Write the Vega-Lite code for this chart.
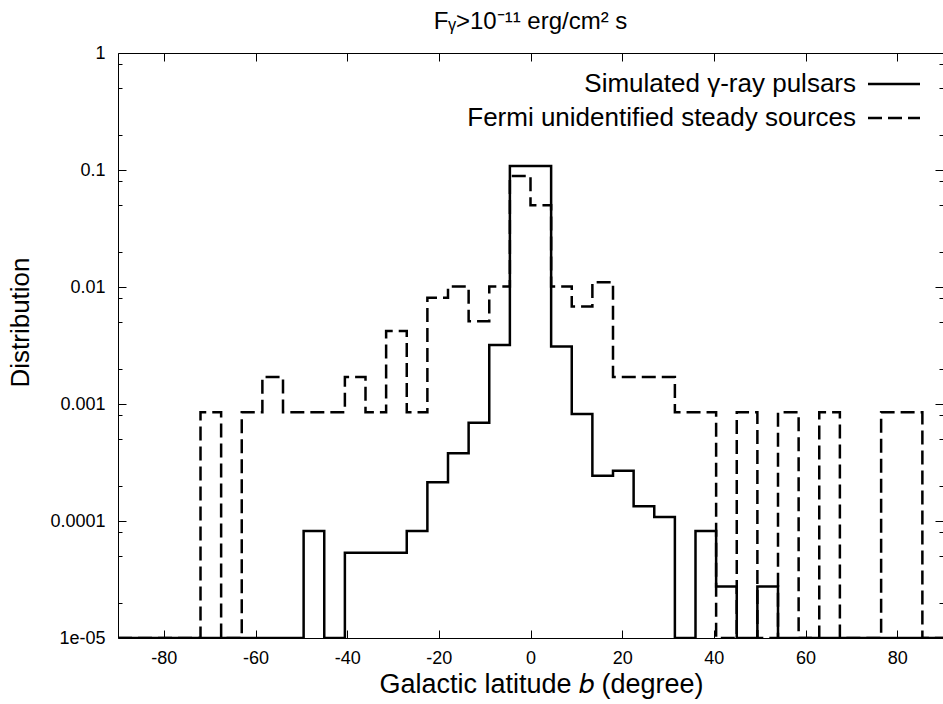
{
  "$schema": "https://vega.github.io/schema/vega-lite/v6.json",
  "autosize": "none",
  "width": 825,
  "height": 585,
  "padding": {"left": 118, "top": 53, "right": 0, "bottom": 66},
  "background": "white",
  "config": {
    "font": "Liberation Sans",
    "view": {"stroke": null},
    "axis": {"grid": false, "domainColor": "black", "domainWidth": 1, "tickColor": "black", "tickWidth": 1, "labelColor": "black", "titleColor": "black", "labelFont": "Liberation Sans", "titleFont": "Liberation Sans", "titleFontWeight": "normal", "labelFontSize": 18, "titleFontSize": 27}
  },
  "title": {"text": "Fᵧ>10⁻¹¹ erg/cm² s", "font": "Liberation Sans", "fontSize": 24, "fontWeight": "normal", "color": "black", "anchor": "middle", "dx": 0, "dy": 31, "offset": 22, "baseline": "alphabetic"},
  "data": {"values": [
    {"b": -90, "d": 0.00001, "s": "Simulated γ-ray pulsars"},
    {"b": -85.5, "d": 0.00001, "s": "Simulated γ-ray pulsars"},
    {"b": -81, "d": 0.00001, "s": "Simulated γ-ray pulsars"},
    {"b": -76.5, "d": 0.00001, "s": "Simulated γ-ray pulsars"},
    {"b": -72, "d": 0.00001, "s": "Simulated γ-ray pulsars"},
    {"b": -67.5, "d": 0.00001, "s": "Simulated γ-ray pulsars"},
    {"b": -63, "d": 0.00001, "s": "Simulated γ-ray pulsars"},
    {"b": -58.5, "d": 0.00001, "s": "Simulated γ-ray pulsars"},
    {"b": -54, "d": 0.00001, "s": "Simulated γ-ray pulsars"},
    {"b": -49.5, "d": 0.000082, "s": "Simulated γ-ray pulsars"},
    {"b": -45, "d": 0.00001, "s": "Simulated γ-ray pulsars"},
    {"b": -40.5, "d": 0.0000535, "s": "Simulated γ-ray pulsars"},
    {"b": -36, "d": 0.0000535, "s": "Simulated γ-ray pulsars"},
    {"b": -31.5, "d": 0.0000535, "s": "Simulated γ-ray pulsars"},
    {"b": -27, "d": 0.000082, "s": "Simulated γ-ray pulsars"},
    {"b": -22.5, "d": 0.000214, "s": "Simulated γ-ray pulsars"},
    {"b": -18, "d": 0.00038, "s": "Simulated γ-ray pulsars"},
    {"b": -13.5, "d": 0.00069, "s": "Simulated γ-ray pulsars"},
    {"b": -9, "d": 0.0032, "s": "Simulated γ-ray pulsars"},
    {"b": -4.5, "d": 0.108, "s": "Simulated γ-ray pulsars"},
    {"b": 0, "d": 0.108, "s": "Simulated γ-ray pulsars"},
    {"b": 4.5, "d": 0.0031, "s": "Simulated γ-ray pulsars"},
    {"b": 9, "d": 0.00082, "s": "Simulated γ-ray pulsars"},
    {"b": 13.5, "d": 0.000244, "s": "Simulated γ-ray pulsars"},
    {"b": 18, "d": 0.000269, "s": "Simulated γ-ray pulsars"},
    {"b": 22.5, "d": 0.000134, "s": "Simulated γ-ray pulsars"},
    {"b": 27, "d": 0.000108, "s": "Simulated γ-ray pulsars"},
    {"b": 31.5, "d": 0.00001, "s": "Simulated γ-ray pulsars"},
    {"b": 36, "d": 0.000082, "s": "Simulated γ-ray pulsars"},
    {"b": 40.5, "d": 0.0000275, "s": "Simulated γ-ray pulsars"},
    {"b": 45, "d": 0.00001, "s": "Simulated γ-ray pulsars"},
    {"b": 49.5, "d": 0.0000275, "s": "Simulated γ-ray pulsars"},
    {"b": 54, "d": 0.00001, "s": "Simulated γ-ray pulsars"},
    {"b": 58.5, "d": 0.00001, "s": "Simulated γ-ray pulsars"},
    {"b": 63, "d": 0.00001, "s": "Simulated γ-ray pulsars"},
    {"b": 67.5, "d": 0.00001, "s": "Simulated γ-ray pulsars"},
    {"b": 72, "d": 0.00001, "s": "Simulated γ-ray pulsars"},
    {"b": 76.5, "d": 0.00001, "s": "Simulated γ-ray pulsars"},
    {"b": 81, "d": 0.00001, "s": "Simulated γ-ray pulsars"},
    {"b": 85.5, "d": 0.00001, "s": "Simulated γ-ray pulsars"},
    {"b": 90, "d": 0.00001, "s": "Simulated γ-ray pulsars"},
    {"b": -90, "d": 0.00001, "s": "Fermi unidentified steady sources"},
    {"b": -85.5, "d": 0.00001, "s": "Fermi unidentified steady sources"},
    {"b": -81, "d": 0.00001, "s": "Fermi unidentified steady sources"},
    {"b": -76.5, "d": 0.00001, "s": "Fermi unidentified steady sources"},
    {"b": -72, "d": 0.00085, "s": "Fermi unidentified steady sources"},
    {"b": -67.5, "d": 0.00001, "s": "Fermi unidentified steady sources"},
    {"b": -63, "d": 0.00085, "s": "Fermi unidentified steady sources"},
    {"b": -58.5, "d": 0.0017, "s": "Fermi unidentified steady sources"},
    {"b": -54, "d": 0.00085, "s": "Fermi unidentified steady sources"},
    {"b": -49.5, "d": 0.00085, "s": "Fermi unidentified steady sources"},
    {"b": -45, "d": 0.00085, "s": "Fermi unidentified steady sources"},
    {"b": -40.5, "d": 0.0017, "s": "Fermi unidentified steady sources"},
    {"b": -36, "d": 0.00085, "s": "Fermi unidentified steady sources"},
    {"b": -31.5, "d": 0.0042, "s": "Fermi unidentified steady sources"},
    {"b": -27, "d": 0.00085, "s": "Fermi unidentified steady sources"},
    {"b": -22.5, "d": 0.0081, "s": "Fermi unidentified steady sources"},
    {"b": -18, "d": 0.0101, "s": "Fermi unidentified steady sources"},
    {"b": -13.5, "d": 0.0051, "s": "Fermi unidentified steady sources"},
    {"b": -9, "d": 0.0101, "s": "Fermi unidentified steady sources"},
    {"b": -4.5, "d": 0.089, "s": "Fermi unidentified steady sources"},
    {"b": 0, "d": 0.05, "s": "Fermi unidentified steady sources"},
    {"b": 4.5, "d": 0.0101, "s": "Fermi unidentified steady sources"},
    {"b": 9, "d": 0.0068, "s": "Fermi unidentified steady sources"},
    {"b": 13.5, "d": 0.011, "s": "Fermi unidentified steady sources"},
    {"b": 18, "d": 0.0017, "s": "Fermi unidentified steady sources"},
    {"b": 22.5, "d": 0.0017, "s": "Fermi unidentified steady sources"},
    {"b": 27, "d": 0.0017, "s": "Fermi unidentified steady sources"},
    {"b": 31.5, "d": 0.00085, "s": "Fermi unidentified steady sources"},
    {"b": 36, "d": 0.00085, "s": "Fermi unidentified steady sources"},
    {"b": 40.5, "d": 0.00001, "s": "Fermi unidentified steady sources"},
    {"b": 45, "d": 0.00085, "s": "Fermi unidentified steady sources"},
    {"b": 49.5, "d": 0.00001, "s": "Fermi unidentified steady sources"},
    {"b": 54, "d": 0.00085, "s": "Fermi unidentified steady sources"},
    {"b": 58.5, "d": 0.00001, "s": "Fermi unidentified steady sources"},
    {"b": 63, "d": 0.00085, "s": "Fermi unidentified steady sources"},
    {"b": 67.5, "d": 0.00001, "s": "Fermi unidentified steady sources"},
    {"b": 72, "d": 0.00001, "s": "Fermi unidentified steady sources"},
    {"b": 76.5, "d": 0.00085, "s": "Fermi unidentified steady sources"},
    {"b": 81, "d": 0.00085, "s": "Fermi unidentified steady sources"},
    {"b": 85.5, "d": 0.00001, "s": "Fermi unidentified steady sources"},
    {"b": 90, "d": 0.00001, "s": "Fermi unidentified steady sources"}
  ]},
  "layer": [
    {
      "mark": {"type": "line", "interpolate": "step-after", "color": "black", "strokeWidth": 2.5, "clip": true},
      "encoding": {
        "x": {"field": "b", "type": "quantitative", "scale": {"domain": [-90, 90], "nice": false, "zero": false},
          "axis": {"orient": "bottom", "values": [-80, -60, -40, -20, 0, 20, 40, 60, 80], "labelExpr": "'' + datum.value", "tickSize": -8, "labelPadding": 19, "labelFlush": false, "title": "Galactic latitude 𝑏 (degree)", "titlePadding": 4, "titleX": 423}},
        "y": {"field": "d", "type": "quantitative", "scale": {"type": "log", "domain": [0.00001, 1], "nice": false},
          "axis": {"orient": "left", "values": [0.00001, 0.00002, 0.00005, 0.00008, 0.0001, 0.0002, 0.0005, 0.0008, 0.001, 0.002, 0.005, 0.008, 0.01, 0.02, 0.05, 0.08, 0.1, 0.2, 0.5, 0.8, 1],
            "labelExpr": "datum.value < 0.00002 ? '1e-05' : (abs(log(datum.value)/LN10 - round(log(datum.value)/LN10)) < 0.01 ? '' + datum.value : '')",
            "tickSize": {"condition": {"test": "abs(log(datum.value)/LN10 - round(log(datum.value)/LN10)) < 0.01", "value": -8}, "value": -4},
            "labelOverlap": false, "labelPadding": 21, "title": "Distribution", "titleFontSize": 26, "titlePadding": 16, "titleY": 269}},
        "strokeDash": {"field": "s", "type": "nominal",
          "scale": {"domain": ["Simulated γ-ray pulsars", "Fermi unidentified steady sources"], "range": [[1, 0], [14, 6]]},
          "legend": {"orient": "top-right", "title": null, "offset": 18, "padding": 0, "symbolType": "M-4,0L4,0", "symbolSize": 169, "symbolStrokeWidth": 2.5, "symbolStrokeColor": "black", "labelFont": "Liberation Sans", "labelFontSize": 26, "labelColor": "black", "labelAlign": "right", "labelOffset": -51, "labelLimit": 600, "rowPadding": 8}}
      }
    },
    {
      "mark": {"type": "line", "strokeOpacity": 0},
      "encoding": {
        "x": {"field": "b", "type": "quantitative",
          "axis": {"orient": "top", "values": [-80, -60, -40, -20, 0, 20, 40, 60, 80], "tickSize": -8, "labels": false, "title": null}},
        "y": {"field": "d", "type": "quantitative",
          "axis": {"orient": "right", "values": [0.00001, 0.00002, 0.00005, 0.00008, 0.0001, 0.0002, 0.0005, 0.0008, 0.001, 0.002, 0.005, 0.008, 0.01, 0.02, 0.05, 0.08, 0.1, 0.2, 0.5, 0.8, 1],
            "tickSize": {"condition": {"test": "abs(log(datum.value)/LN10 - round(log(datum.value)/LN10)) < 0.01", "value": -8}, "value": -4},
            "labels": false, "title": null}}
      }
    }
  ],
  "resolve": {"axis": {"x": "independent", "y": "independent"}}
}
